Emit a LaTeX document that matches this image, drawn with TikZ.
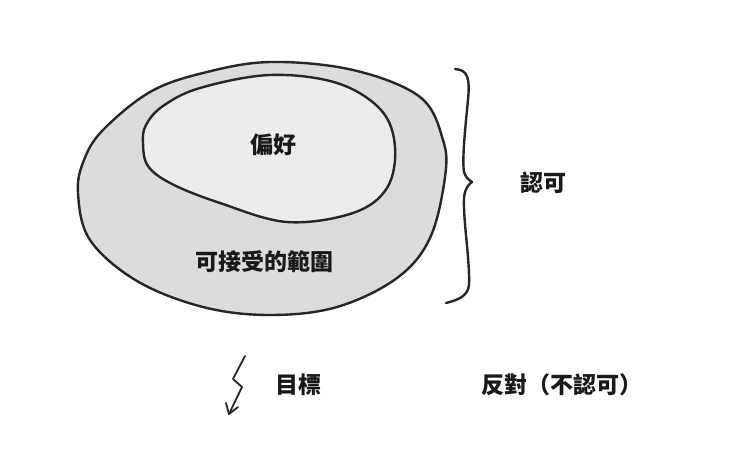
\documentclass[tikz,border=0pt]{standalone}
\usepackage{fontspec}
\newfontfamily\cjk{Noto Sans CJK TC}
\usetikzlibrary{arrows.meta}
\definecolor{outerfill}{RGB}{220,220,220}
\definecolor{innerfill}{RGB}{236,236,236}
\tikzset{
  blob/.style={draw=black!85, line width=2.4pt, line join=round},
  lbl/.style={font=\cjk\bfseries\fontsize{23}{26}\selectfont, text=black!90, inner sep=0pt},
  hand/.style={draw=black!85, line width=2.4pt, line cap=round, line join=round}
}
\begin{document}
\begin{tikzpicture}[x=1pt,y=-1pt]
\useasboundingbox (0,0) rectangle (740,467);
% outer blob
\path[blob, fill=outerfill] plot[smooth cycle, tension=0.6] coordinates {
 (78,193) (90,240) (137,281) (203,307) (270,315) (337,307) (397,278) (430,238)
 (445,177) (443,140) (420,97) (353,70) (270,62) (203,73) (150,92) (103,130) (84,160)};
% inner blob
\path[blob, fill=innerfill] plot[smooth cycle, tension=0.6] coordinates {
 (143,143) (148,166) (172,184) (220,203) (287,222) (353,213) (387,188)
 (395,147) (381,110) (337,83) (270,75) (200,88) (163,106) (146,125)};
\node[lbl] (pref) at (273,145) {偏好};
\node[lbl] (acc) at (264,262) {可接受的範圍};
% brace
\coordinate (bt) at (455,69);
\coordinate (bm) at (472,182);
\coordinate (bb) at (446,303);
\draw[hand] (bt) .. controls (468,70) and (470,78) .. (468,100)
  .. controls (465,130) and (462,160) .. (464,172)
  .. controls (466,178) and (469,180) .. (bm)
  .. controls (469,184) and (465,188) .. (464,198)
  .. controls (463,220) and (470,260) .. (469,285)
  .. controls (468,296) and (458,300) .. (bb);
\node[lbl] (approve) at (543,183) {認可};
% lightning arrow
\coordinate (l0) at (245,356);
\coordinate (l1) at (233,379);
\coordinate (l2) at (242,387);
\coordinate (l3) at (229,414);
\draw[hand, line width=1.8pt] (l0) -- (l1) -- (l2) -- (l3);
\draw[hand, line width=1.8pt] (226,403) -- (l3) -- (238,407);
\node[lbl] (goal) at (298,385) {目標};
\node[lbl] (oppose) at (562,385) {反對（不認可）};
\end{tikzpicture}
\end{document}
